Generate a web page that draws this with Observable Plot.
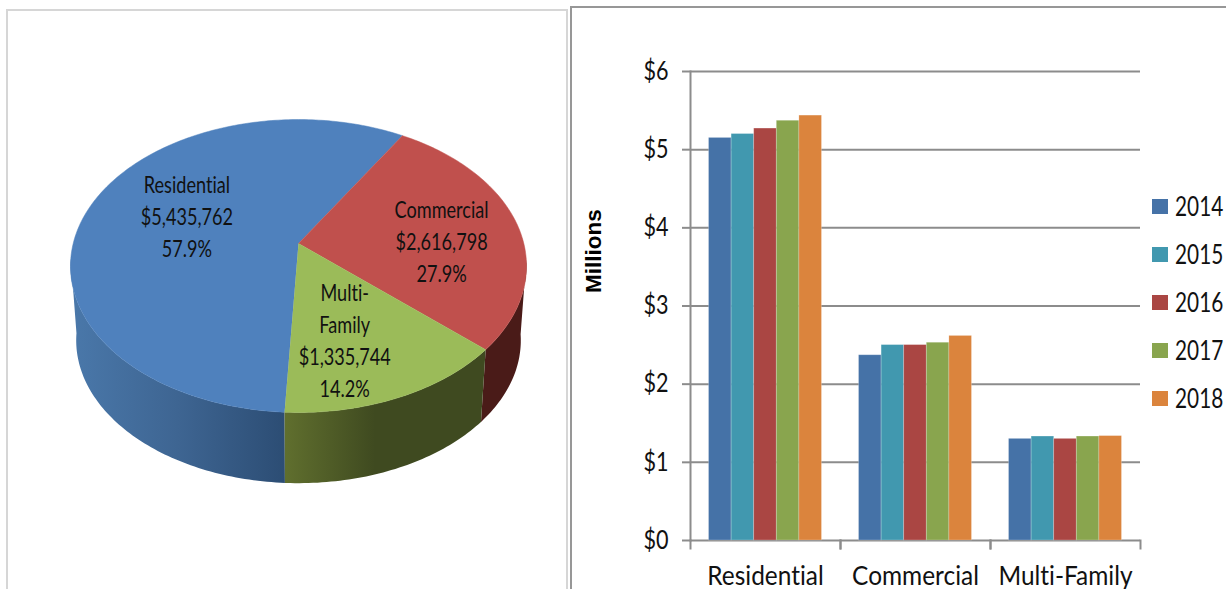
<!DOCTYPE html>
<html>
<head>
<meta charset="utf-8">
<script src="https://cdn.jsdelivr.net/npm/d3@7"></script>
<script src="https://cdn.jsdelivr.net/npm/@observablehq/plot@0.6"></script>
<style>
  html, body { margin: 0; padding: 0; background: #fff; overflow: hidden; }
  #page { position: relative; width: 1226px; height: 589px; overflow: hidden; }
  #pieFrame { position: absolute; left: 6px; top: 9px; width: 562px; height: 600px; border: 2px solid #d6d6d6; box-sizing: border-box; }
  #barFrame { position: absolute; left: 570px; top: 6px; width: 700px; height: 600px; border: 2px solid #979797; box-sizing: border-box; }
  #pie, #bars { position: absolute; top: 0; }
  #pie { left: 0; }
  #bars { left: 570px; }
  .key { position: absolute; left: 1152px; display: flex; align-items: center; height: 30px; white-space: nowrap;
         font: 26px Lato, sans-serif; color: #111; }
  .key i { display: block; width: 16px; height: 15px; margin-right: 7px; }
  .key span { display: block; transform: scaleX(0.8); transform-origin: left center; }
  svg { display: block; background: transparent; }
  svg text { font-variant-ligatures: none; }
</style>
</head>
<body>
<div id="page">
  <div id="pieFrame"></div>
  <div id="barFrame"></div>
  <div id="pie"></div>
  <div id="bars"></div>
</div>
<script>
// 2018 revenue split by property class
const pieNames = ["Residential", "Commercial", "Multi-\nFamily"];
const pieValues = [5435762, 2616798, 1335744];
const pieColors = ["#4f81bd", "#c0504d", "#9bbb59"];
const rimStops = [
  [[0, "#4a78aa"], [0.5, "#3e6592"], [1, "#2c4d74"]],
  [[0, "#4a1b18"], [1, "#4a1b18"]],
  [[0, "#606f2e"], [0.45, "#3f4a20"], [1, "#3f4a20"]]
];

// Revenue by year, in millions of dollars
const categories = ["Residential", "Commercial", "Multi-Family"];
const years = ["2014", "2015", "2016", "2017", "2018"];
const residential = [5.15, 5.20, 5.27, 5.37, 5.435762];
const commercial = [2.37, 2.50, 2.50, 2.53, 2.616798];
const multiFamily = [1.30, 1.33, 1.30, 1.33, 1.335744];
const yearColors = ["#4572a7", "#4198af", "#aa4643", "#89a54e", "#db843d"];
const yTicks = [0, 1, 2, 3, 4, 5, 6];

const axisGray = "#8c8c8c";

// Perspective view of the unit disc: the near edge is drawn larger than the far edge.
const tilt = 0.1536, baseScale = 0.975, baseDrop = 0.524;
const rad = (deg) => (deg * Math.PI) / 180;
function project(deg, radius = 1, base = false) {
  const u = radius * Math.sin(rad(deg));
  const v = -radius * Math.cos(rad(deg));
  const d = 1 - tilt * v;
  const s = base ? baseScale : 1;
  return { x: (s * u) / d, y: (base ? baseDrop : 0) + (s * v) / d };
}

// Slices run clockwise; the first one starts just past six o'clock.
const arcs = d3.pie().sort(null).startAngle(rad(183)).endAngle(rad(543))(pieValues)
  .map((a, i) => ({
    name: pieNames[i],
    color: pieColors[i],
    from: (a.startAngle * 180) / Math.PI,
    to: (a.endAngle * 180) / Math.PI,
    share: a.value / d3.sum(pieValues),
    value: a.value,
    index: i
  }));

const sweep = (a) => [...d3.range(a.from, a.to, 1), a.to];

const topPoints = arcs.flatMap((a) =>
  [{ x: 0, y: 0 }, ...sweep(a).map((deg) => project(deg))].map((p) => ({ ...p, slice: a.name, color: a.color }))
);

// Each slice's rim is one outline on the near side, stopping where the disc's edge
// turns away, and shaded by a left-to-right gradient.
const rimPoints = arcs.flatMap((a) => {
  const stops = sweep(a).filter((deg) => Math.cos(rad(deg)) < -0.1);
  return [...stops.map((deg) => project(deg)), ...stops.slice().reverse().map((deg) => project(deg, 1, true))]
    .map((p) => ({ ...p, slice: a.name, paint: `url(#rim${a.index})` }));
});

function rimGradients() {
  const defs = d3.create("svg:defs");
  rimStops.forEach((stops, i) => {
    const g = defs.append("linearGradient").attr("id", `rim${i}`).attr("x1", 0).attr("x2", 1).attr("y1", 0).attr("y2", 0);
    stops.forEach(([offset, color]) => g.append("stop").attr("offset", offset).attr("stop-color", color));
  });
  return defs.node();
}

const labelAngles = [289.5, 90, 163.5];
const labelRadii = [0.54, 0.635, 0.653];
const pieLabels = arcs.map((a, i) => ({
  ...project(labelAngles[i], labelRadii[i]),
  text: `${a.name}\n$${d3.format(",")(a.value)}\n${d3.format(".1%")(a.share)}`
}));

// Lato set narrower, the way the labels are drawn on both charts
function squeeze(svg, label, factor) {
  svg.querySelectorAll(`g[aria-label="${label}"] text`).forEach((t) => {
    t.setAttribute("transform", `${t.getAttribute("transform") || ""} scale(${factor},1)`);
  });
}

const pie = Plot.plot({
  width: 570,
  height: 589,
  margin: 0,
  x: { domain: [-1, 1], range: [72.7, 523.3], axis: null },
  y: { domain: [-1, 1], range: [100, 386], axis: null },
  color: { type: "identity" },
  marks: [
    rimGradients,
    Plot.line(rimPoints, { x: "x", y: "y", z: "slice", fill: "paint", stroke: "none" }),
    Plot.line(topPoints, { x: "x", y: "y", z: "slice", fill: "color", stroke: "color", strokeWidth: 0.5 }),
    Plot.text(pieLabels, {
      x: "x", y: "y", text: "text", dy: -4,
      fontFamily: "Lato, sans-serif", fontSize: 23.5, lineHeight: 1.36, fill: "#111"
    })
  ]
});
squeeze(pie, "text", 0.77);
document.getElementById("pie").append(pie);

const barRows = categories.flatMap((category, c) =>
  [residential, commercial, multiFamily][c].map((value, j) => ({ category, year: years[j], value }))
);

const bars = Plot.plot({
  width: 656,
  height: 589,
  marginTop: 71,
  marginBottom: 49,
  marginLeft: 120,
  marginRight: 86,
  fx: { domain: categories, padding: 0, round: false, axis: null },
  x: { domain: years, paddingInner: 0, paddingOuter: 0.82, round: false, axis: null },
  y: { domain: [0, 6], axis: null },
  color: { domain: years, range: yearColors },
  marks: [
    Plot.ruleY(yTicks, { stroke: axisGray, strokeWidth: 2, strokeOpacity: 1 }),
    Plot.barY(barRows, {
      fx: "category", x: "year", y: "value", fill: "year",
      stroke: "#fff", strokeOpacity: 0.28, strokeWidth: 0.8, insetLeft: 0, insetRight: 0
    }),
    Plot.frame({ anchor: "left", fx: ["Residential"], stroke: axisGray, strokeWidth: 2 }),
    Plot.frame({ anchor: "left", stroke: axisGray, strokeWidth: 2, insetTop: 469, insetBottom: -8 }),
    Plot.frame({ anchor: "right", stroke: axisGray, strokeWidth: 2, insetTop: 469, insetBottom: -8 }),
    Plot.axisY(yTicks, {
      tickFormat: (d) => `$${d}`, tickSize: 8, tickPadding: 14, stroke: axisGray, strokeWidth: 2,
      fill: "#111", fontFamily: "Lato, sans-serif", fontSize: 26, label: null
    }),
    Plot.axisFx({
      domain: categories, anchor: "bottom", tickSize: 0, tickPadding: 26,
      fill: "#111", fontFamily: "Lato, sans-serif", fontSize: 26, label: null
    }),
    Plot.text(["Millions"], {
      fx: ["Residential"], frameAnchor: "left", textAnchor: "middle", rotate: -90, dx: -97, dy: -55,
      fontFamily: "Liberation Sans, sans-serif", fontWeight: "bold", fontSize: 22.5, fill: "#000"
    })
  ]
});
squeeze(bars, "y-axis tick label", 0.83);
squeeze(bars, "fx-axis tick label", 0.94);
document.getElementById("bars").append(bars);

// Year key beside the bars
const page = document.getElementById("page");
years.forEach((year, i) => {
  const row = document.createElement("div");
  row.className = "key";
  row.style.top = `${191 + i * 48}px`;
  const swatch = document.createElement("i");
  swatch.style.background = yearColors[i];
  const label = document.createElement("span");
  label.textContent = year;
  row.append(swatch, label);
  page.append(row);
});
</script>
</body>
</html>
